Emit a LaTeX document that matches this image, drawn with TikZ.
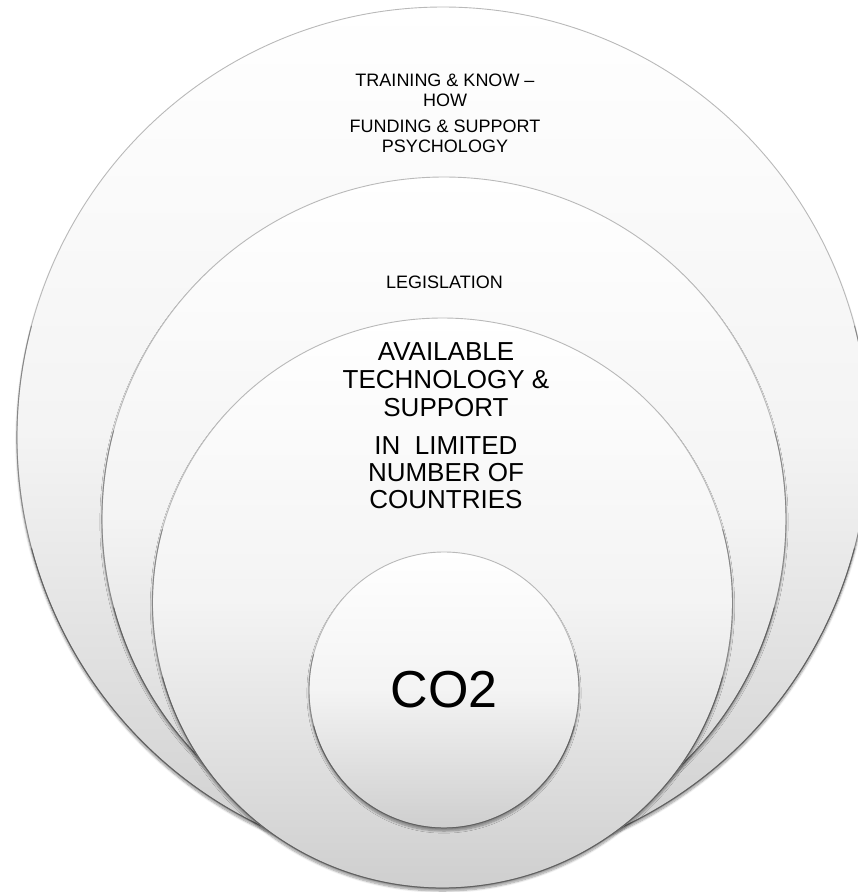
\documentclass[tikz,border=0pt]{standalone}
\usepackage{fontspec}
\setmainfont{Liberation Sans}
\usetikzlibrary{shapes.geometric,shadows.blur}
\newcommand\drawrim[3]{%
  \draw[rimA] (#1.center) ++(165:#2 and #3) arc[start angle=165, end angle=375, x radius=#2, y radius=#3];
  \draw[rimB] (#1.center) ++(195:#2 and #3) arc[start angle=195, end angle=345, x radius=#2, y radius=#3];
}
\begin{document}
\begin{tikzpicture}[x=1pt,y=-1pt,
  disk/.style={ellipse, inner sep=0pt, draw=gray!55, line width=0.9pt,
    top color=white, bottom color=gray!38, middle color=gray!9,
    blur shadow={shadow xshift=0pt, shadow yshift=-3pt, shadow blur steps=8, shadow opacity=40}},
  rimA/.style={draw=gray!95, line width=0.9pt},
  rimB/.style={draw=black!62, line width=1pt},
  lbl/.style={align=center, inner sep=0pt, text=black}]
\useasboundingbox (0,0) rectangle (858,892);
\node[disk, minimum width=852pt, minimum height=860pt] (outer) at (443,437) {};
\drawrim{outer}{426pt}{430pt}
\node[disk, minimum width=684pt, minimum height=684pt] (mid) at (444,519) {};
\drawrim{mid}{342pt}{342pt}
\node[disk, minimum width=580pt, minimum height=570pt] (core) at (442.5,603) {};
\drawrim{core}{290pt}{285pt}
\node[disk, minimum width=270pt, minimum height=276pt, font=\fontsize{52}{60}\selectfont] (co2) at (444,690) {CO2};
\drawrim{co2}{135pt}{138pt}
\node[lbl, font=\fontsize{18}{20}\selectfont] (train) at (445,90) {TRAINING \& KNOW –\\HOW};
\node[lbl, font=\fontsize{18}{19.5}\selectfont] (fund) at (445,136.5) {FUNDING \& SUPPORT\\PSYCHOLOGY};
\node[lbl, font=\fontsize{18}{20}\selectfont] (legis) at (444.5,282) {LEGISLATION};
\node[lbl, font=\fontsize{26}{28}\selectfont] (avail) at (446,380) {AVAILABLE\\TECHNOLOGY \&\\SUPPORT};
\node[lbl, font=\fontsize{26}{27}\selectfont] (limit) at (446,473) {IN\ \ LIMITED\\NUMBER OF\\COUNTRIES};
\end{tikzpicture}
\end{document}
